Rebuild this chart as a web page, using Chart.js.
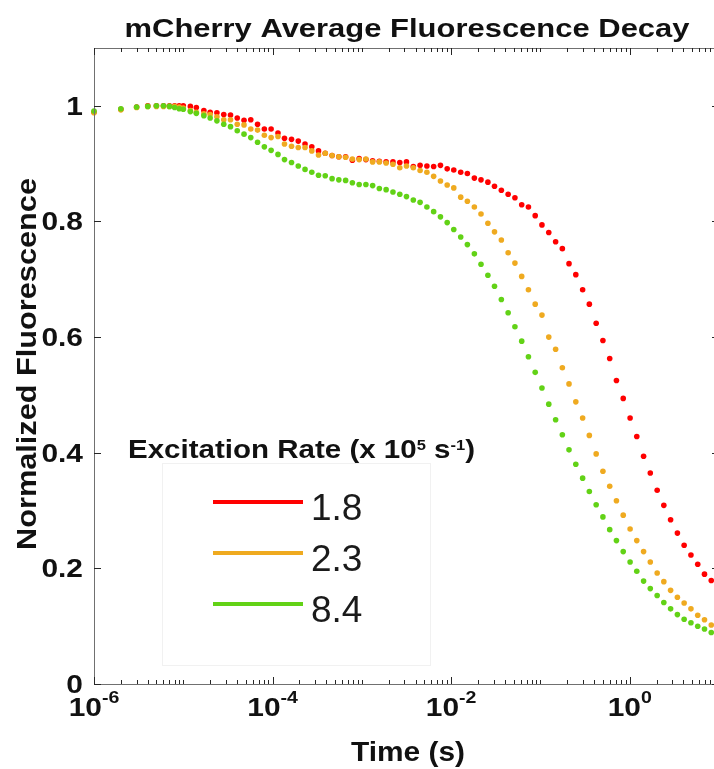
<!DOCTYPE html>
<html>
<head>
<meta charset="utf-8">
<script src="https://cdn.jsdelivr.net/npm/chart.js@4.4.1/dist/chart.umd.min.js"></script>
<style>
  html, body { margin: 0; padding: 0; background: #fff; overflow: hidden; }
  #wrap { position: relative; width: 722px; height: 769px; }
</style>
</head>
<body>
<div id="wrap"><canvas id="decay"></canvas></div>
<script>
// sample times (s): 1 us steps first, then log-spaced bins
const times = [
  1e-6, 2e-6, 3e-6, 4e-6, 5e-6, 6e-6, 7e-6, 8e-6, 9e-6, 1e-5, 1.2e-5, 1.4e-5, 1.7e-5,
  2.00e-5, 2.38e-5, 2.84e-5, 3.38e-5, 4.02e-5, 4.79e-5, 5.70e-5, 6.79e-5, 8.09e-5, 9.63e-5,
  1.15e-4, 1.36e-4, 1.63e-4, 1.94e-4, 2.31e-4, 2.75e-4, 3.27e-4, 3.89e-4, 4.64e-4, 5.52e-4, 6.58e-4, 7.83e-4, 9.33e-4,
  1.11e-3, 1.32e-3, 1.57e-3, 1.87e-3, 2.23e-3, 2.66e-3, 3.16e-3, 3.77e-3, 4.49e-3, 5.35e-3, 6.37e-3, 7.59e-3, 9.03e-3,
  1.07e-2, 1.28e-2, 1.52e-2, 1.82e-2, 2.16e-2, 2.58e-2, 3.06e-2, 3.65e-2, 4.35e-2, 5.18e-2, 6.17e-2, 7.34e-2, 8.74e-2,
  0.104, 0.124, 0.148, 0.176, 0.209, 0.249, 0.297, 0.353, 0.421, 0.501, 0.597, 0.710, 0.846,
  1.01, 1.20, 1.43, 1.70, 2.03, 2.41, 2.87, 3.42, 4.07, 4.85, 5.78, 6.88, 8.19
];

// normalized fluorescence for each excitation rate (x 10^5 s^-1)
const rate18 = [
  0.989, 0.994, 0.998, 1.000, 1.000, 1.000, 1.000, 1.000, 1.000, 1.000, 0.999, 0.997, 0.992,
  0.989, 0.988, 0.985, 0.984, 0.979, 0.975, 0.976, 0.968, 0.960, 0.960,
  0.953, 0.944, 0.942, 0.939, 0.934, 0.929, 0.922, 0.918, 0.914, 0.912, 0.912, 0.906, 0.909,
  0.907, 0.905, 0.904, 0.903, 0.903, 0.902, 0.903, 0.895, 0.897, 0.896, 0.895, 0.897, 0.891,
  0.889, 0.885, 0.883, 0.875, 0.872, 0.868, 0.861, 0.854, 0.847, 0.841, 0.829, 0.825, 0.810,
  0.794, 0.781, 0.765, 0.753, 0.727, 0.708, 0.682, 0.657, 0.624, 0.594, 0.563, 0.525, 0.494,
  0.460, 0.428, 0.394, 0.365, 0.335, 0.309, 0.284, 0.261, 0.240, 0.223, 0.207, 0.190, 0.179
];
const rate23 = [
  0.988, 0.993, 0.997, 0.999, 0.999, 0.999, 0.999, 0.999, 0.998, 0.996, 0.992, 0.989, 0.986,
  0.985, 0.981, 0.976, 0.976, 0.968, 0.967, 0.960, 0.958, 0.949, 0.945,
  0.947, 0.934, 0.930, 0.928, 0.928, 0.922, 0.915, 0.918, 0.914, 0.912, 0.911, 0.908, 0.907,
  0.908, 0.903, 0.903, 0.901, 0.899, 0.893, 0.896, 0.893, 0.888, 0.885, 0.878, 0.870, 0.863,
  0.858, 0.842, 0.835, 0.825, 0.813, 0.797, 0.782, 0.768, 0.746, 0.728, 0.705, 0.682, 0.657,
  0.638, 0.600, 0.579, 0.547, 0.519, 0.488, 0.460, 0.430, 0.398, 0.368, 0.342, 0.317, 0.292,
  0.268, 0.248, 0.229, 0.211, 0.192, 0.177, 0.162, 0.150, 0.140, 0.130, 0.119, 0.111, 0.102
];
const rate84 = [
  0.991, 0.995, 0.998, 0.999, 1.000, 1.000, 0.999, 0.997, 0.995, 0.994, 0.990, 0.987, 0.983,
  0.979, 0.974, 0.968, 0.964, 0.957, 0.951, 0.945, 0.937, 0.929, 0.923,
  0.916, 0.907, 0.902, 0.896, 0.890, 0.885, 0.880, 0.879, 0.874, 0.872, 0.871, 0.867, 0.864,
  0.864, 0.862, 0.857, 0.855, 0.851, 0.847, 0.843, 0.837, 0.833, 0.825, 0.817, 0.808, 0.798,
  0.786, 0.773, 0.760, 0.744, 0.726, 0.707, 0.688, 0.665, 0.642, 0.618, 0.593, 0.566, 0.539,
  0.512, 0.484, 0.457, 0.431, 0.405, 0.380, 0.356, 0.333, 0.310, 0.289, 0.267, 0.248, 0.229,
  0.211, 0.195, 0.178, 0.165, 0.153, 0.141, 0.130, 0.120, 0.112, 0.106, 0.100, 0.095, 0.089
];
const rateLabels = ['1.8', '2.3', '8.4'];

const yTicks = [0, 0.2, 0.4, 0.6, 0.8, 1];
const yTickLabels = ['0', '0.2', '0.4', '0.6', '0.8', '1'];
const xTicks = [1e-6, 1e-4, 1e-2, 1];
const xTickExps = ['-6', '-4', '-2', '0'];

const colors = ['#ff0000', '#efaa20', '#62d216'];
const FAM = '"Liberation Sans", Arial, sans-serif';
const SX = 1.15;   // the axis font runs a bit wide

// draw a row of text pieces [text, font, dy], optionally squeezed/stretched to a width
function drawRuns(ctx, runs, x, y, opts = {}) {
  let total = 0;
  runs.forEach(r => { ctx.font = r[1]; total += ctx.measureText(r[0]).width; });
  const sx = opts.width ? opts.width / total : (opts.sx || 1);
  let start = x;
  if (opts.align === 'center') start = x - total * sx / 2;
  if (opts.align === 'right') start = x - total * sx;
  ctx.save();
  ctx.translate(start, y);
  ctx.scale(sx, 1);
  ctx.textAlign = 'left';
  ctx.textBaseline = 'alphabetic';
  let cx = 0;
  runs.forEach(r => {
    ctx.font = r[1];
    ctx.fillText(r[0], cx, r[2] || 0);
    cx += ctx.measureText(r[0]).width;
  });
  ctx.restore();
}

const frame = {
  id: 'frame',
  afterDraw(chart) {
    const { ctx, chartArea: a, scales: { x, y } } = chart;
    ctx.save();

    // axes box
    ctx.strokeStyle = '#707070';
    ctx.lineWidth = 1;
    ctx.strokeRect(a.left + 0.5, a.top + 0.5, a.right - a.left, a.bottom - a.top);

    // inward ticks on all four sides
    ctx.strokeStyle = '#262626';
    ctx.beginPath();
    const tickX = (v, len) => {
      const px = Math.round(x.getPixelForValue(v)) + 0.5;
      ctx.moveTo(px, a.bottom); ctx.lineTo(px, a.bottom - len);
      ctx.moveTo(px, a.top); ctx.lineTo(px, a.top + len);
    };
    for (let d = -6; d < 1; d++) for (let m = 2; m <= 9; m++) tickX(m * Math.pow(10, d), 4);
    [1e-5, 1e-3, 1e-1].forEach(v => tickX(v, 4));
    xTicks.forEach(v => tickX(v, 7));
    yTicks.forEach(v => {
      const py = Math.round(y.getPixelForValue(v)) + 0.5;
      ctx.moveTo(a.left, py); ctx.lineTo(a.left + 7, py);
      ctx.moveTo(a.right, py); ctx.lineTo(a.right - 7, py);
    });
    ctx.stroke();

    ctx.fillStyle = '#111';
    const B26 = 'bold 26px ' + FAM;

    yTicks.forEach((v, i) => {
      drawRuns(ctx, [[yTickLabels[i], B26]], 83, y.getPixelForValue(v) + 9, { align: 'right', sx: SX });
    });
    xTicks.forEach((v, i) => {
      drawRuns(ctx, [['10', B26], [xTickExps[i], 'bold 17px ' + FAM, -13]],
        x.getPixelForValue(v), 716, { align: 'center', sx: SX });
    });

    // titles
    drawRuns(ctx, [['mCherry Average Fluorescence Decay', 'bold 26px ' + FAM]], 407, 37, { align: 'center', width: 565 });
    drawRuns(ctx, [['Time (s)', 'bold 27px ' + FAM]], 408, 761, { align: 'center', width: 114 });
    ctx.save();
    ctx.translate(36, 364);
    ctx.rotate(-Math.PI / 2);
    drawRuns(ctx, [['Normalized Fluorescence', 'bold 27px ' + FAM]], 0, 0, { align: 'center', width: 372 });
    ctx.restore();

    // legend
    ctx.strokeStyle = '#f1f1f1';
    ctx.strokeRect(162.5, 463.5, 268, 202);
    const S13 = 'bold 14px ' + FAM;
    drawRuns(ctx, [['Excitation Rate (x 10', 'bold 25px ' + FAM], ['5', S13, -8], [' s', 'bold 25px ' + FAM], ['-1', S13, -8], [')', 'bold 25px ' + FAM]],
      128, 458, { width: 347 });
    const rowY = [502, 553, 604];
    rateLabels.forEach((lab, i) => {
      ctx.strokeStyle = colors[i];
      ctx.lineWidth = 4;
      ctx.beginPath();
      ctx.moveTo(213, rowY[i]); ctx.lineTo(303, rowY[i]);
      ctx.stroke();
      ctx.fillStyle = '#1a1a1a';
      ctx.font = '37px ' + FAM;
      ctx.textAlign = 'left';
      ctx.textBaseline = 'alphabetic';
      ctx.fillText(lab, 311, rowY[i] + 18);
    });

    ctx.restore();
  }
};

const series = [rate18, rate23, rate84];
new Chart(document.getElementById('decay'), {
  type: 'scatter',
  data: {
    datasets: series.map((vals, i) => ({
      label: rateLabels[i],
      data: times.map((t, j) => ({ x: t, y: vals[j] })),
      backgroundColor: colors[i],
      borderColor: colors[i],
      pointRadius: 2.8,
      pointBorderWidth: 0,
      pointHoverRadius: 2.8,
      order: 3 - i,
      clip: false
    }))
  },
  options: {
    responsive: true,
    maintainAspectRatio: false,
    animation: false,
    events: [],
    layout: { padding: { left: 94, top: 48, right: 3, bottom: 85 } },
    plugins: { legend: { display: false }, tooltip: { enabled: false } },
    scales: {
      x: {
        type: 'logarithmic', min: 1e-6, max: 10,
        grid: { display: false }, border: { display: false },
        ticks: { display: false },
        afterFit: s => { s.height = 0; }
      },
      y: {
        min: 0, max: 1.1,
        grid: { display: false }, border: { display: false },
        ticks: { display: false },
        afterFit: s => { s.width = 0; }
      }
    }
  },
  plugins: [frame]
});
</script>
</body>
</html>
